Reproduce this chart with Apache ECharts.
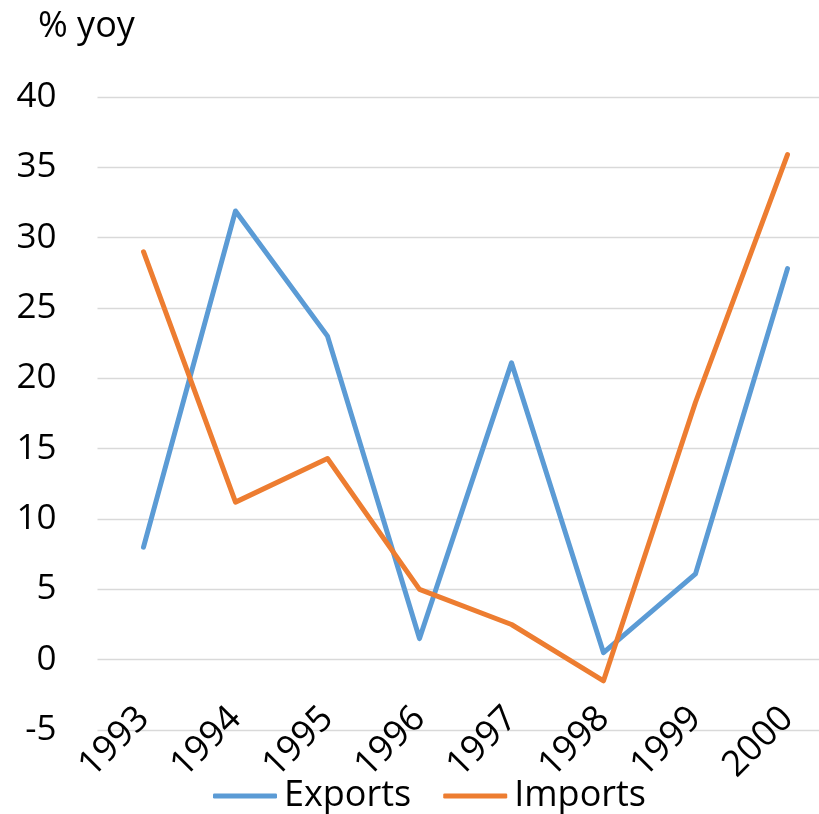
<!DOCTYPE html>
<html>
<head>
<meta charset="utf-8">
<title>Exports and imports growth</title>
<script src="https://cdn.jsdelivr.net/npm/echarts@6/dist/echarts.min.js"></script>
<style>
  html, body { margin: 0; padding: 0; background: #ffffff; overflow: hidden; }
  /* the plot area runs on past the right edge of the page */
  #chart { width: 836px; height: 814px; }
</style>
</head>
<body>
<div id="chart"></div>
<script>
// Annual growth rates, % year on year
const years = ['1993', '1994', '1995', '1996', '1997', '1998', '1999', '2000'];
const exportsYoY = [8.0, 31.9, 23.0, 1.5, 21.1, 0.5, 6.1, 27.8];
const importsYoY = [29.0, 11.2, 14.3, 5.0, 2.5, -1.5, 18.3, 35.9];
const yTicks = { min: -5, max: 40, step: 5 };

const FONT = '"Open Sans", "Noto Sans", sans-serif';
const BLUE = '#5B9BD5';
const ORANGE = '#ED7D31';

const chart = echarts.init(document.getElementById('chart'), null, { renderer: 'canvas' });

chart.setOption({
  animation: false,
  backgroundColor: '#ffffff',
  textStyle: { fontFamily: FONT },
  graphic: [{
    type: 'text',
    left: 38,
    top: 9,
    style: { text: '% yoy', font: '36px ' + FONT, fill: '#000000' }
  }],
  grid: { left: 97.5, top: 97, width: 736, height: 633 },
  legend: {
    left: 208,
    top: 773,
    itemWidth: 64,
    itemHeight: 5,
    itemGap: 32,
    icon: 'roundRect',
    textStyle: { fontFamily: FONT, fontSize: 36, color: '#000000', padding: [0, 0, 0, 2] },
    data: ['Exports', 'Imports']
  },
  xAxis: {
    type: 'category',
    data: years,
    boundaryGap: true,
    axisLine: { show: false },
    axisTick: { show: false },
    axisLabel: {
      rotate: 45,
      margin: -17,
      fontFamily: FONT,
      fontSize: 36,
      color: '#000000'
    },
    splitLine: { show: false }
  },
  yAxis: {
    type: 'value',
    min: yTicks.min,
    max: yTicks.max,
    interval: yTicks.step,
    axisLine: { show: false },
    axisTick: { show: false },
    axisLabel: {
      margin: 41,
      fontFamily: FONT,
      fontSize: 35,
      color: '#000000'
    },
    splitLine: { lineStyle: { color: '#D9D9D9', width: 1.3 } }
  },
  series: [
    {
      name: 'Exports',
      type: 'line',
      data: exportsYoY,
      symbol: 'none',
      color: BLUE,
      lineStyle: { color: BLUE, width: 5, cap: 'round', join: 'round' }
    },
    {
      name: 'Imports',
      type: 'line',
      data: importsYoY,
      symbol: 'none',
      color: ORANGE,
      lineStyle: { color: ORANGE, width: 5, cap: 'round', join: 'round' }
    }
  ]
});
</script>
</body>
</html>
